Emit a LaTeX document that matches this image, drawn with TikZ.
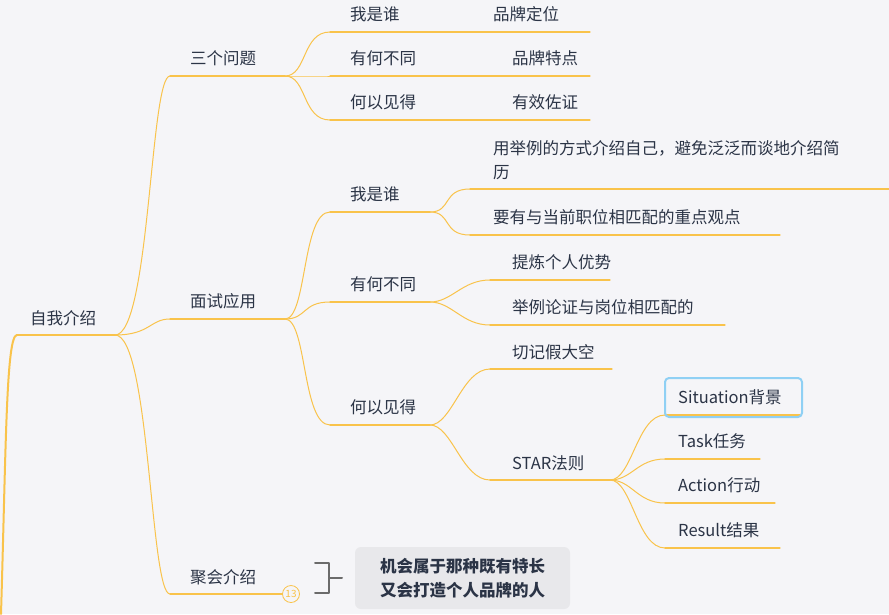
\documentclass[tikz,border=0pt]{standalone}
\usepackage{fontspec}
\setmainfont{Noto Sans CJK SC}
\definecolor{bgcol}{HTML}{F5F5F8}
\definecolor{linecol}{HTML}{F9C34B}
\definecolor{txtcol}{HTML}{2B3446}
\definecolor{selcol}{HTML}{8FD0F4}
\definecolor{notecol}{HTML}{E8E8EB}
\definecolor{bracecol}{HTML}{6B6B6B}
\tikzset{
  topic/.style={anchor=base west,inner sep=0pt,text=txtcol,font=\fontsize{16.5}{22}\selectfont},
  uline/.style={draw=linecol,line width=1.1pt},
  branch/.style={draw=linecol,line width=1pt},
}
\newcommand{\curvelink}[2]{\draw[branch] (#1) .. controls +(22,0) and +(-28,0) .. (#2);}
\begin{document}
\begin{tikzpicture}[x=1pt,y=-1pt,line cap=round,line join=round]
  \fill[bgcol] (0,0) rectangle (889,614);
  \useasboundingbox (0,0) rectangle (889,614);
  % root
  \node[topic] (root) at (30,324) {自我介绍};
  \coordinate (rootL) at (17,335);
  \coordinate (rootR) at (115,335);
  \draw[linecol,line width=2.2pt] (rootL) -- (rootR);
  \coordinate (edge) at (1,614);
  \draw[linecol,line width=2pt] (rootL) .. controls (6,335) and (6,450) .. (edge);
  % level 1
  \node[topic] (q) at (190,64) {三个问题};
  \node[topic] (use) at (190,307) {面试应用};
  \node[topic] (meet) at (190,583) {聚会介绍};
  \foreach \n/\y in {t1/76,t2/319,t3/594}{
    \coordinate (\n s) at (170,\y); \coordinate (\n e) at (285,\y);
    \draw[uline] (\n s) -- (\n e);
    \draw[branch] (rootR) .. controls (150,335) and (150,\y) .. (\n s);
  }
  % three questions
  \foreach \t/\y/\n in {我是谁/32/a, 有何不同/76/b, 何以见得/120/c}{
    \node[topic] (p\n) at (350,\y-12) {\t};
    \coordinate (p\n s) at (330,\y); \coordinate (p\n e) at (590,\y);
    \draw[uline] (p\n s) -- (p\n e);
    \curvelink{t1e}{p\n s}
  }
  \node[topic] (pa2) at (493,20) {品牌定位};
  \node[topic] (pb2) at (512,64) {品牌特点};
  \node[topic] (pc2) at (512,108) {有效佐证};
  % interview
  \foreach \t/\y/\n in {我是谁/212/a, 有何不同/302/b, 何以见得/425/c}{
    \node[topic] (w\n) at (350,\y-12) {\t};
    \coordinate (w\n s) at (330,\y); \coordinate (w\n e) at (430,\y);
    \draw[uline] (w\n s) -- (w\n e);
    \curvelink{t2e}{w\n s}
  }
  \node[topic] (wa1) at (493,154) {用举例的方式介绍自己，避免泛泛而谈地介绍简};
  \node[topic] (wa1b) at (493,178) {历};
  \node[topic] (wa2) at (493,223) {要有与当前职位相匹配的重点观点};
  \node[topic] (wb1) at (512,268) {提炼个人优势};
  \node[topic] (wb2) at (512,313) {举例论证与岗位相匹配的};
  \node[topic] (wc1) at (512,358) {切记假大空};
  \node[topic] (wc2) at (512,469) {STAR法则};
  \foreach \p/\n/\a/\b/\y in {wae/a1/470/889/189, wae/a2/470/780/235, wbe/b1/490/610/280, wbe/b2/490/725/325, wce/c1/490/612/369, wce/c2/490/610/480}{
    \coordinate (x\n s) at (\a,\y); \coordinate (x\n e) at (\b,\y);
    \draw[uline] (x\n s) -- (x\n e);
    \curvelink{\p}{x\n s}
  }
  % STAR
  \foreach \t/\y/\w/\n in {Situation背景/415/800/s, Task任务/459/760/t, Action行动/503/775/a, Result结果/548/780/r}{
    \node[topic] (st\n) at (678,\y-12) {\t};
    \coordinate (st\n s) at (665,\y); \coordinate (st\n e) at (\w,\y);
    \draw[uline] (st\n s) -- (st\n e);
    \curvelink{xc2e}{st\n s}
  }
  \draw[selcol,line width=2pt,rounded corners=4pt] (665,378) rectangle (802,417);
  % meeting note
  \node[circle,draw=linecol,fill=bgcol,line width=0.8pt,inner sep=0pt,minimum size=17pt,text=linecol,font=\fontsize{10}{10}\selectfont] (badge) at (291,594) {13};
  \draw[bracecol,line width=2pt] (315,563) -- (329,563) -- (329,593) -- (315,593);
  \coordinate (bm) at (329,578); \coordinate (bt) at (342,578);
  \draw[bracecol,line width=2pt] (bm) -- (bt);
  \node[fill=notecol,rounded corners=6pt,minimum width=215pt,minimum height=62pt,text=txtcol,align=center,font=\fontsize{16.5}{24}\selectfont\bfseries] (note) at (462.5,578) {机会属于那种既有特长\\又会打造个人品牌的人};
\end{tikzpicture}
\end{document}
